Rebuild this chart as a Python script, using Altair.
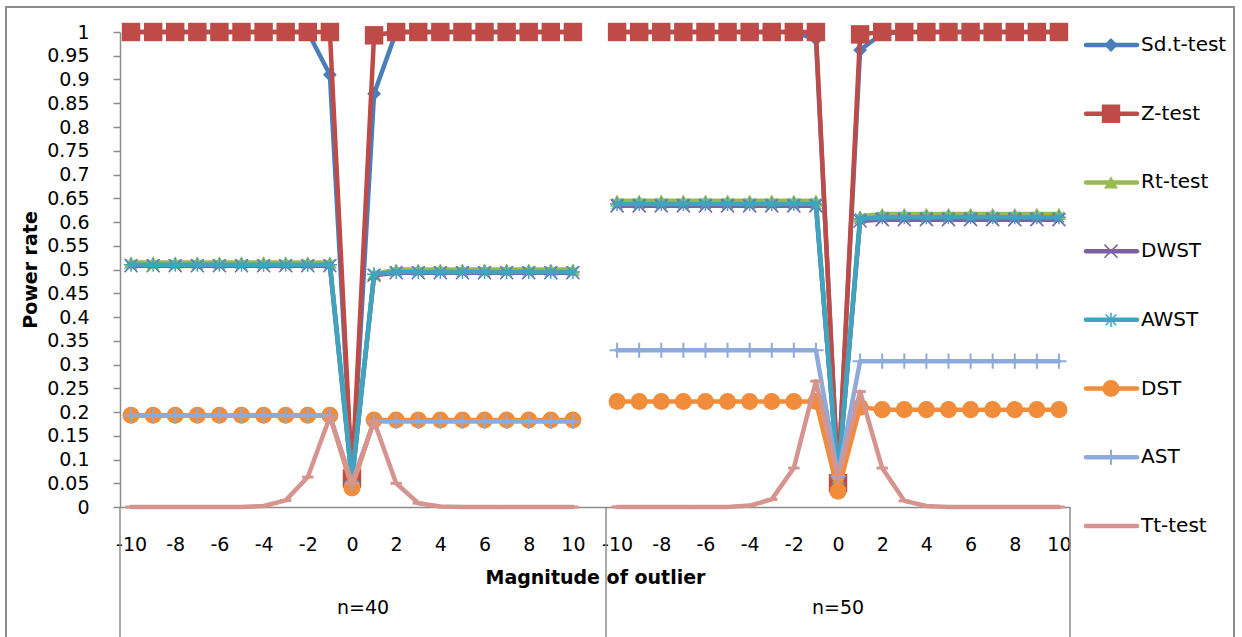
import altair as alt
import pandas as pd

# ---------------- data ----------------
series_names = ["Sd.t-test", "Z-test", "Rt-test", "DWST", "AWST", "DST", "AST", "Tt-test"]
series_colors = ["#4A7EBB", "#BE4B48", "#98B954", "#7D60A0", "#3FA4C0", "#F08C3A", "#8EAADB", "#D6948F"]
group_names = ["n=40", "n=50"]
magnitudes = [-10, -9, -8, -7, -6, -5, -4, -3, -2, -1, 0, 1, 2, 3, 4, 5, 6, 7, 8, 9, 10]

sdt_40 = [1, 1, 1, 1, 1, 1, 1, 1, 1, 0.91, 0.055, 0.87, 1, 1, 1, 1, 1, 1, 1, 1, 1]
z_40 = [1, 1, 1, 1, 1, 1, 1, 1, 1, 1, 0.06, 0.993, 1, 1, 1, 1, 1, 1, 1, 1, 1]
rt_40 = [0.515, 0.515, 0.515, 0.515, 0.515, 0.515, 0.515, 0.515, 0.515, 0.515, 0.06,
         0.49, 0.5, 0.5, 0.5, 0.5, 0.5, 0.5, 0.5, 0.5, 0.5]
dwst_40 = [0.508, 0.508, 0.508, 0.508, 0.508, 0.508, 0.508, 0.508, 0.508, 0.508, 0.055,
           0.488, 0.493, 0.493, 0.493, 0.493, 0.493, 0.493, 0.493, 0.493, 0.493]
awst_40 = [0.51, 0.51, 0.51, 0.51, 0.51, 0.51, 0.51, 0.51, 0.51, 0.51, 0.055,
           0.49, 0.495, 0.495, 0.495, 0.495, 0.495, 0.495, 0.495, 0.495, 0.495]
dst_40 = [0.193, 0.193, 0.193, 0.193, 0.193, 0.193, 0.193, 0.193, 0.193, 0.193, 0.04,
          0.183, 0.183, 0.183, 0.183, 0.183, 0.183, 0.183, 0.183, 0.183, 0.183]
ast_40 = [0.192, 0.192, 0.192, 0.192, 0.192, 0.192, 0.192, 0.192, 0.192, 0.192, 0.05,
          0.18, 0.18, 0.18, 0.18, 0.18, 0.18, 0.18, 0.18, 0.18, 0.18]
tt_40 = [0, 0, 0, 0, 0, 0, 0.002, 0.014, 0.063, 0.19, 0.05, 0.18, 0.05, 0.008, 0.001,
         0, 0, 0, 0, 0, 0]

sdt_50 = [1, 1, 1, 1, 1, 1, 1, 1, 1, 0.985, 0.06, 0.962, 0.997, 1, 1, 1, 1, 1, 1, 1, 1]
z_50 = [1, 1, 1, 1, 1, 1, 1, 1, 1, 1, 0.05, 0.995, 1, 1, 1, 1, 1, 1, 1, 1, 1]
rt_50 = [0.645, 0.645, 0.645, 0.645, 0.645, 0.645, 0.645, 0.645, 0.645, 0.645, 0.06,
         0.612, 0.617, 0.617, 0.617, 0.617, 0.617, 0.617, 0.617, 0.617, 0.617]
dwst_50 = [0.634, 0.634, 0.634, 0.634, 0.634, 0.634, 0.634, 0.634, 0.634, 0.634, 0.06,
           0.602, 0.605, 0.605, 0.605, 0.605, 0.605, 0.605, 0.605, 0.605, 0.605]
awst_50 = [0.638, 0.638, 0.638, 0.638, 0.638, 0.638, 0.638, 0.638, 0.638, 0.638, 0.06,
           0.607, 0.61, 0.61, 0.61, 0.61, 0.61, 0.61, 0.61, 0.61, 0.61]
dst_50 = [0.222, 0.222, 0.222, 0.222, 0.222, 0.222, 0.222, 0.222, 0.222, 0.222, 0.033,
          0.21, 0.205, 0.205, 0.205, 0.205, 0.205, 0.205, 0.205, 0.205, 0.205]
ast_50 = [0.33, 0.33, 0.33, 0.33, 0.33, 0.33, 0.33, 0.33, 0.33, 0.33, 0.065,
          0.307, 0.307, 0.307, 0.307, 0.307, 0.307, 0.307, 0.307, 0.307, 0.307]
tt_50 = [0, 0, 0, 0, 0, 0, 0.003, 0.016, 0.082, 0.265, 0.06, 0.243, 0.082, 0.013, 0.002,
         0, 0, 0, 0, 0, 0]

values = {
    "n=40": [sdt_40, z_40, rt_40, dwst_40, awst_40, dst_40, ast_40, tt_40],
    "n=50": [sdt_50, z_50, rt_50, dwst_50, awst_50, dst_50, ast_50, tt_50],
}
y_ticks = [0, 0.05, 0.1, 0.15, 0.2, 0.25, 0.3, 0.35, 0.4, 0.45, 0.5,
           0.55, 0.6, 0.65, 0.7, 0.75, 0.8, 0.85, 0.9, 0.95, 1]

# ---------------- category layout ----------------
# group n=40 occupies category slots 0..20 (+ one empty slot 21), n=50 slots 22..42
group_offsets = {"n=40": 0, "n=50": 22}
n_slots = 43
boundaries = [-0.5, 21.5, 42.5]

rows = []
for g in group_names:
    for si, s in enumerate(series_names):
        for k, m in enumerate(magnitudes):
            rows.append({"series": s, "grp": g, "mag": m,
                         "idx": group_offsets[g] + k, "value": values[g][si][k]})
df = pd.DataFrame(rows)

tick_labels = [""] * n_slots
for g in group_names:
    for k, m in enumerate(magnitudes):
        if m % 2 == 0:
            tick_labels[group_offsets[g] + k] = str(m)
tick_positions = [i for i, t in enumerate(tick_labels) if t != ""]
label_expr = "[" + ",".join('"%s"' % t for t in tick_labels) + "][datum.value]"

FONT = "DejaVu Sans"
GRAY = "#8C8C8C"

x_axis = alt.Axis(values=tick_positions, labelExpr=label_expr, ticks=False,
                  domainColor=GRAY, domainWidth=1.5, labelFontSize=19, labelColor="#000000",
                  labelPadding=28, labelOverlap=False, labelFlush=False, labelFont=FONT,
                  title="Magnitude of outlier", titleFont=FONT, titleFontSize=19,
                  titleFontWeight="bold", titleColor="#000000", titlePadding=14, grid=False)
x_enc = alt.X("idx:Q", scale=alt.Scale(domain=[-0.5, 42.5], nice=False, zero=False), axis=x_axis)

y_scale = alt.Scale(domain=[0, 1], nice=False, zero=False)
y_axis = alt.Axis(values=y_ticks, format=".2~f", tickSize=7, tickColor=GRAY, tickWidth=1.5,
                  domainColor=GRAY, domainWidth=1.5, labelFontSize=19, labelColor="#000000",
                  labelPadding=24, labelFont=FONT, title="Power rate", titleFont=FONT,
                  titleFontSize=19, titleFontWeight="bold", titleColor="#000000",
                  titlePadding=6, grid=False)

shapes = {
    "Sd.t-test": ("diamond", True, 190, 0),
    "Z-test": ("square", True, 340, 0),
    "Rt-test": ("triangle-up", True, 200, 0),
    "DWST": ("M-1,-1L1,1M-1,1L1,-1", False, 170, 1.5),
    "AWST": ("M-1,0L1,0M0,-1L0,1M-0.75,-0.75L0.75,0.75M-0.75,0.75L0.75,-0.75", False, 200, 1.5),
    "DST": ("circle", True, 290, 0),
    "AST": ("M-1,0L1,0M0,-1L0,1", False, 230, 2),
    "Tt-test": ("M-1,0L1,0", False, 130, 3),
}

base = alt.Chart(df)
layers = []
first = True
for s, c in zip(series_names, series_colors):
    shp, filled, size, sw = shapes[s]
    y_enc = alt.Y("value:Q", scale=y_scale, axis=y_axis if first else None)
    first = False
    line = base.transform_filter(alt.datum.series == s).mark_line(
        color=c, strokeWidth=4.5, strokeJoin="round", strokeCap="round"
    ).encode(x=x_enc, y=y_enc, detail="grp:N")
    yp = alt.Y("value:Q", scale=y_scale, axis=None)
    if filled:
        pts = base.transform_filter(alt.datum.series == s).mark_point(
            shape=shp, filled=True, size=size, color=c, opacity=1, strokeWidth=0
        ).encode(x=x_enc, y=yp)
    else:
        pts = base.transform_filter(alt.datum.series == s).mark_point(
            shape=shp, filled=False, size=size, color=c, opacity=1, strokeWidth=sw
        ).encode(x=x_enc, y=yp)
    layers += [line, pts]

# group separators and labels under the axis
sep_df = pd.DataFrame({"idx": boundaries})
seps = alt.Chart(sep_df).mark_rule(color=GRAY, strokeWidth=1.5).encode(
    x=x_enc, y=alt.value(475), y2=alt.value(610))
grp_df = pd.DataFrame({"idx": [(boundaries[0] + boundaries[1]) / 2,
                               (boundaries[1] + boundaries[2]) / 2],
                       "label": group_names})
grp_text = alt.Chart(grp_df).mark_text(font=FONT, fontSize=19, color="#000000",
                                       baseline="middle", align="center").encode(
    x=x_enc, y=alt.value(576), text="label:N")

# legend
leg_df = pd.DataFrame({"series": series_names})
leg_y = alt.Y("series:N", scale=alt.Scale(type="point", domain=series_names,
                                          range=[13, 494], padding=0),
              axis=None)
color_scale = alt.Scale(domain=series_names, range=series_colors)
leg_rule = alt.Chart(leg_df).mark_rule(strokeWidth=4.5, strokeCap="round").encode(
    x=alt.value(966), x2=alt.value(1017), y=leg_y,
    color=alt.Color("series:N", scale=color_scale, legend=None))
leg_text = alt.Chart(leg_df).mark_text(font=FONT, fontSize=20, color="#000000",
                                       align="left", baseline="middle").encode(
    x=alt.value(1021), y=leg_y, text="series:N")
leg_pts = []
for s, c in zip(series_names, series_colors):
    shp, filled, size, sw = shapes[s]
    leg_pts.append(alt.Chart(leg_df).transform_filter(alt.datum.series == s).mark_point(
        shape=shp, filled=filled, size=size, color=c, opacity=1,
        strokeWidth=(0 if filled else sw)).encode(x=alt.value(991), y=leg_y))

frame = alt.Chart(pd.DataFrame({"a": [0]})).mark_rect(
    filled=False, stroke=GRAY, strokeWidth=2, fill=None).encode(
    x=alt.value(-114), x2=alt.value(1114), y=alt.value(-25), y2=alt.value(640))

chart = alt.layer(*layers, seps, grp_text, leg_rule, *leg_pts, leg_text, frame).resolve_scale(
    y="independent"
).properties(
    width=950, height=475,
    padding={"left": 120, "top": 32, "right": 172, "bottom": 130},
    autosize=alt.AutoSizeParams(type="none"),
    background="#FFFFFF",
).configure_view(stroke=None)

chart.save("out.html", embed_options={"renderer": "svg", "actions": False})
